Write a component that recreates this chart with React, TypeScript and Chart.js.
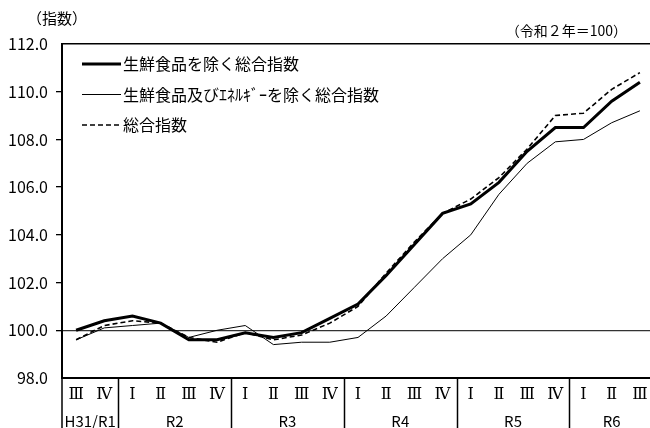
import React, { useEffect, useRef } from "react";
import { Chart, registerables } from "chart.js";

Chart.register(...registerables);

const quarters = ["Ⅲ", "Ⅳ", "Ⅰ", "Ⅱ", "Ⅲ", "Ⅳ", "Ⅰ", "Ⅱ", "Ⅲ", "Ⅳ", "Ⅰ", "Ⅱ", "Ⅲ", "Ⅳ", "Ⅰ", "Ⅱ", "Ⅲ", "Ⅳ", "Ⅰ", "Ⅱ", "Ⅲ"];
const years = ["H31/R1", "R2", "R3", "R4", "R5", "R6"];
const yearSpans = [2, 4, 4, 4, 4, 3];

const coreIndex = [100.0, 100.4, 100.6, 100.3, 99.6, 99.6, 99.9, 99.7, 99.9, 100.5, 101.1, 102.3, 103.6, 104.9, 105.3, 106.2, 107.5, 108.5, 108.5, 109.6, 110.4];
const coreCoreIndex = [99.6, 100.1, 100.2, 100.3, 99.7, 100.0, 100.2, 99.4, 99.5, 99.5, 99.7, 100.6, 101.8, 103.0, 104.0, 105.7, 107.0, 107.9, 108.0, 108.7, 109.2];
const allIndex = [99.6, 100.2, 100.4, 100.3, 99.7, 99.5, 99.9, 99.6, 99.8, 100.3, 101.0, 102.4, 103.7, 104.9, 105.5, 106.4, 107.6, 109.0, 109.1, 110.1, 110.8];

const seriesNames = ["生鮮食品を除く総合指数", "生鮮食品及びｴﾈﾙｷﾞｰを除く総合指数", "総合指数"];
const yMin = 98;
const yMax = 112;
const yStep = 2;
const yUnitLabel = "（指数）";
const baseLabel = "（令和２年＝100）";

const FONT = '"Noto Sans CJK JP", "Noto Sans", sans-serif';
const ROMAN_FONT = '"DejaVu Serif", "Liberation Serif", serif';

const decorPlugin = {
  id: "decor",
  afterDraw(chart: any) {
    const { ctx, chartArea, scales } = chart;
    const x = scales.x;
    const H = chart.height;
    const w = x.getPixelForValue(1) - x.getPixelForValue(0);
    ctx.save();
    ctx.strokeStyle = "#000";
    ctx.lineWidth = 1.5;
    ctx.beginPath();
    ctx.moveTo(chartArea.left, chartArea.bottom);
    ctx.lineTo(chartArea.left, H);
    ctx.stroke();
    let idx = 0;
    ctx.fillStyle = "#000";
    ctx.font = `15px ${FONT}`;
    ctx.textAlign = "center";
    ctx.textBaseline = "middle";
    years.forEach((yr, g) => {
      const span = yearSpans[g];
      const start = x.getPixelForValue(idx) - w / 2;
      const end = x.getPixelForValue(idx + span - 1) + w / 2;
      if (g > 0) {
        ctx.beginPath();
        ctx.moveTo(Math.round(start) + 0.5, chartArea.bottom);
        ctx.lineTo(Math.round(start) + 0.5, H);
        ctx.stroke();
      }
      ctx.fillText(yr, (start + end) / 2, 421);
      idx += span;
    });
    chart.data.datasets.forEach((ds: any, i: number) => {
      const y = 64 + i * 30.5;
      ctx.save();
      ctx.strokeStyle = ds.borderColor;
      ctx.lineWidth = ds.borderWidth;
      ctx.setLineDash(ds.borderDash || []);
      ctx.beginPath();
      ctx.moveTo(82, y);
      ctx.lineTo(121, y);
      ctx.stroke();
      ctx.restore();
      ctx.font = `16px ${FONT}`;
      ctx.textAlign = "left";
      ctx.textBaseline = "middle";
      ctx.fillStyle = "#000";
      ctx.fillText(ds.label, 123, y);
    });
    ctx.font = `15px ${FONT}`;
    ctx.textAlign = "left";
    ctx.textBaseline = "middle";
    ctx.fillText(yUnitLabel, 27, 18);
    ctx.font = `14px ${FONT}`;
    ctx.textAlign = "right";
    ctx.fillText(baseLabel, 627, 31);
    ctx.restore();
  },
};

export default function App() {
  const ref = useRef<HTMLCanvasElement | null>(null);
  useEffect(() => {
    if (!ref.current) return;
    const chart = new Chart(ref.current, {
      type: "line",
      data: {
        labels: quarters,
        datasets: [
          { label: seriesNames[0], data: coreIndex, borderColor: "#000", borderWidth: 3, pointRadius: 0, tension: 0, fill: false },
          { label: seriesNames[1], data: coreCoreIndex, borderColor: "#000", borderWidth: 1, pointRadius: 0, tension: 0, fill: false },
          { label: seriesNames[2], data: allIndex, borderColor: "#000", borderWidth: 1.6, borderDash: [5, 3], pointRadius: 0, tension: 0, fill: false },
        ],
      },
      options: {
        animation: false,
        responsive: false,
        devicePixelRatio: 1,
        layout: { padding: { top: 44, right: 2, left: 0, bottom: 0 } },
        plugins: { legend: { display: false }, tooltip: { enabled: false } },
        scales: {
          x: {
            type: "category",
            offset: true,
            grid: { drawOnChartArea: false, drawTicks: false },
            border: { display: true, color: "#000", width: 2 },
            ticks: { color: "#000", font: { family: ROMAN_FONT, size: 16 }, padding: 7, maxRotation: 0, autoSkip: false },
            afterFit(s: any) { s.height = 50; },
          },
          y: {
            min: yMin,
            max: yMax,
            ticks: {
              stepSize: yStep,
              color: "#000",
              font: { family: FONT, size: 16 },
              padding: 8,
              callback: (v: any) => Number(v).toFixed(1),
            },
            grid: {
              color: (c: any) => (c.tick && c.tick.value === 100 ? "#333" : c.tick && c.tick.value === yMax ? "#000" : "rgba(0,0,0,0)"),
              lineWidth: (c: any) => (c.tick && c.tick.value === yMax ? 1.5 : 1.3),
              tickColor: (c: any) => (c.tick && (c.tick.value === yMax || c.tick.value === yMin) ? "rgba(0,0,0,0)" : "#000"),
              tickLength: 6,
              tickWidth: 1.3,
            },
            border: { display: true, color: "#000", width: 2 },
            afterFit(s: any) { s.width = 62; },
          },
        },
      },
      plugins: [decorPlugin],
    } as any);
    return () => chart.destroy();
  }, []);
  return (
    <div style={{ position: "fixed", left: 0, top: 0, width: 650, height: 428, overflow: "hidden", background: "#fff" }}>
      <canvas ref={ref} width={656} height={428} style={{ width: 656, height: 428, display: "block" }} />
    </div>
  );
}
